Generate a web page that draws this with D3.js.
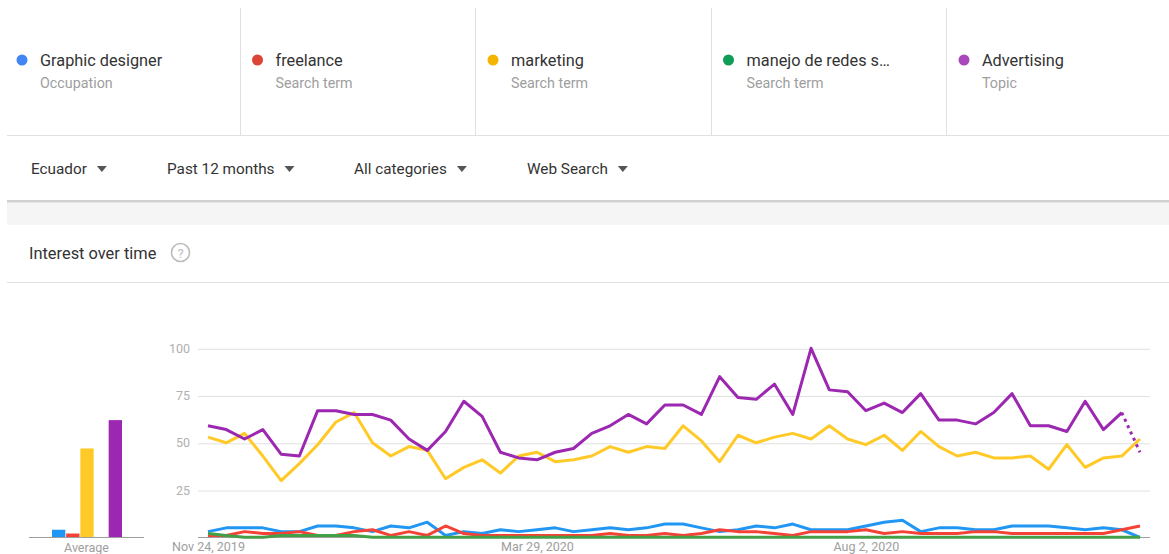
<!DOCTYPE html>
<html>
<head>
<meta charset="utf-8">
<script src="https://cdn.jsdelivr.net/npm/d3@7"></script>
<style>
  html, body { margin: 0; padding: 0; background: #fff; }
  svg { display: block; font-family: Roboto, "Noto Sans", Arial, sans-serif; }
</style>
</head>
<body>
<svg id="chart" width="1169" height="554"></svg>
<script>
// ---- data ----
const termNames = ["Graphic designer", "freelance", "marketing", "manejo de redes s…", "Advertising"];
const termKinds = ["Occupation", "Search term", "Search term", "Search term", "Topic"];
const filterLabels = ["Ecuador", "Past 12 months", "All categories", "Web Search"];
const startWeek = new Date(2019, 10, 24);
const xTickLabels = ["Nov 24, 2019", "Mar 29, 2020", "Aug 2, 2020"];
const yTicks = [25, 50, 75, 100];

const graphicDesigner = [3,5,5,5,3,3,6,6,5,3, 6,5,8,1,3,2,4,3,4,5, 3,4,5,4,5,7,7,5,3,4, 6,5,7,4,4,4,6,8,9,3, 5,5,4,4,6,6,6,5,4,5, 4,0];
const freelance       = [1,1,3,2,2,3,1,1,3,4, 1,3,1,6,2,1,1,1,1,1, 1,1,2,1,1,2,1,2,4,3, 3,2,1,3,3,3,4,2,3,2, 2,2,3,3,2,2,2,2,2,2, 4,6];
const marketing       = [53,50,55,43,30,39,49,61,66,50, 43,48,46,31,37,41,34,43,45,40, 41,43,48,45,48,47,59,51,40,54, 50,53,55,52,59,52,49,54,46,56, 48,43,45,42,42,43,36,49,37,42, 43,52];
const manejoRedes     = [2,1,0,0,1,1,1,1,1,0, 0,0,0,0,0,0,0,0,0,0, 0,0,0,0,0,0,0,0,0,0, 0,0,0,0,0,0,0,0,0,0, 0,0,0,0,0,0,0,0,0,0, 0,0];
const advertising     = [59,57,52,57,44,43,67,67,65,65, 62,52,46,56,72,64,45,42,41,45, 47,55,59,65,60,70,70,65,85,74, 73,81,65,100,78,77,67,71,66,76, 62,62,60,66,76,59,59,56,72,57, 66,45];
const averages = [4, 2, 47, 0, 62];

const dotColors  = ["#4285f4", "#db4437", "#f4b400", "#0f9d58", "#ab47bc"];
const lineColors = ["#2196f3", "#f44336", "#ffca28", "#43a047", "#9c27b0"];
const allSeries = [graphicDesigner, freelance, marketing, manejoRedes, advertising];

const weeks = graphicDesigner.map((_, i) => d3.timeWeek.offset(startWeek, i));
const tickDates = xTickLabels.map(s => new Date(s));

const svg = d3.select("#chart");

// ---- term header ----
const header = svg.append("g");
const colW = 235.5;
header.append("line").attr("x1", 7).attr("x2", 1169).attr("y1", 135.5).attr("y2", 135.5)
  .attr("stroke", "#e0e0e0");
termNames.forEach((name, i) => {
  const x0 = 7 + i * colW;
  if (i > 0) {
    const sx = Math.round(x0 - 3) + 0.5;
    header.append("line").attr("x1", sx).attr("x2", sx)
      .attr("y1", 8).attr("y2", 135).attr("stroke", "#e0e0e0");
  }
  header.append("circle").attr("cx", x0 + 15).attr("cy", 60).attr("r", 5.5).attr("fill", dotColors[i]);
  header.append("text").attr("x", x0 + 33).attr("y", 65.5).attr("font-size", 16.3)
    .attr("fill", "#333").text(name);
  header.append("text").attr("x", x0 + 33).attr("y", 88).attr("font-size", 14.3)
    .attr("fill", "#9e9e9e").text(termKinds[i]);
});

// ---- filter row ----
const filterX = [31, 167, 354, 527];
filterLabels.forEach((label, i) => {
  const t = svg.append("text").attr("x", filterX[i]).attr("y", 174).attr("font-size", 15.3)
    .attr("fill", "#333").text(label);
  const w = t.node().getComputedTextLength();
  const tx = filterX[i] + w + 15;
  svg.append("path").attr("d", `M${tx - 5},166 L${tx + 5},166 L${tx},172 Z`).attr("fill", "#555");
});

// divider band
svg.append("rect").attr("x", 7).attr("y", 201).attr("width", 1162).attr("height", 24).attr("fill", "#f5f5f5");
svg.append("rect").attr("x", 7).attr("y", 200).attr("width", 1162).attr("height", 2).attr("fill", "#cfcfcf");
svg.append("rect").attr("x", 7).attr("y", 202).attr("width", 1162).attr("height", 1).attr("fill", "#e6e6e6");

// ---- card title ----
svg.append("text").attr("x", 29).attr("y", 258.5).attr("font-size", 16.4).attr("fill", "#333")
  .text("Interest over time");
svg.append("circle").attr("cx", 180.5).attr("cy", 252.5).attr("r", 9).attr("fill", "none")
  .attr("stroke", "#bdbdbd").attr("stroke-width", 1.6);
svg.append("text").attr("x", 180.5).attr("y", 257.5).attr("text-anchor", "middle").attr("font-size", 13)
  .attr("fill", "#bdbdbd").text("?");
svg.append("line").attr("x1", 7).attr("x2", 1169).attr("y1", 282.5).attr("y2", 282.5).attr("stroke", "#e0e0e0");

// ---- scales ----
const y = d3.scaleLinear().domain([0, 100]).range([537.3, 348.3]);
const x = d3.scaleTime().domain([weeks[0], weeks[weeks.length - 1]]).range([208, 1140]);

// gridlines + y labels
const yAxis = svg.append("g").attr("transform", "translate(198,0)")
  .call(d3.axisLeft(y).tickValues(yTicks).tickSize(-952).tickPadding(8).tickFormat(d3.format("d")));
yAxis.select(".domain").remove();
yAxis.selectAll(".tick line").attr("stroke", "#e0e0e0").attr("transform", "translate(0,0.5)");
yAxis.selectAll(".tick text").attr("fill", "#b0b0b0").attr("font-size", 12.5)
  .attr("font-family", "Roboto, sans-serif");

// x axis labels
const xAxis = svg.append("g").attr("transform", "translate(0,537)")
  .call(d3.axisBottom(x).tickValues(tickDates).tickSize(0).tickPadding(5)
    .tickFormat((d, i) => xTickLabels[i]));
xAxis.select(".domain").remove();
xAxis.selectAll(".tick text").attr("fill", "#9e9e9e").attr("font-size", 12.5)
  .attr("font-family", "Roboto, sans-serif");

// baseline
svg.append("line").attr("x1", 198).attr("x2", 1150).attr("y1", 537.5).attr("y2", 537.5).attr("stroke", "#9e9e9e");

// ---- lines ----
const line = d3.line().x((d, i) => x(weeks[i])).y(d => y(d));
const last = weeks.length - 1;
allSeries.forEach((vals, k) => {
  const dashedTail = k === 4;
  const solid = dashedTail ? vals.slice(0, last) : vals;
  svg.append("path").datum(solid).attr("d", line).attr("fill", "none")
    .attr("stroke", lineColors[k]).attr("stroke-width", 3).attr("stroke-linejoin", "round");
  if (dashedTail) {
    const tail = d3.line().x(d => x(weeks[d.i])).y(d => y(d.v));
    svg.append("path").datum([{ i: last - 1, v: vals[last - 1] }, { i: last, v: vals[last] }])
      .attr("d", tail).attr("fill", "none").attr("stroke", lineColors[k])
      .attr("stroke-width", 3).attr("stroke-dasharray", "3,4");
  }
});

// ---- average bars ----
const xb = d3.scaleBand().domain(d3.range(averages.length)).range([52, 122]).paddingInner(0.06);
svg.append("g").selectAll("rect").data(averages).join("rect")
  .attr("x", (d, i) => xb(i)).attr("width", xb.bandwidth())
  .attr("y", d => y(d)).attr("height", d => y(0) - y(d))
  .attr("fill", (d, i) => lineColors[i]);
svg.append("line").attr("x1", 29).attr("x2", 144).attr("y1", 537.5).attr("y2", 537.5).attr("stroke", "#9e9e9e");
svg.append("text").attr("x", 86.5).attr("y", 552).attr("text-anchor", "middle").attr("font-size", 12.5)
  .attr("fill", "#9e9e9e").text("Average");
</script>
</body>
</html>
